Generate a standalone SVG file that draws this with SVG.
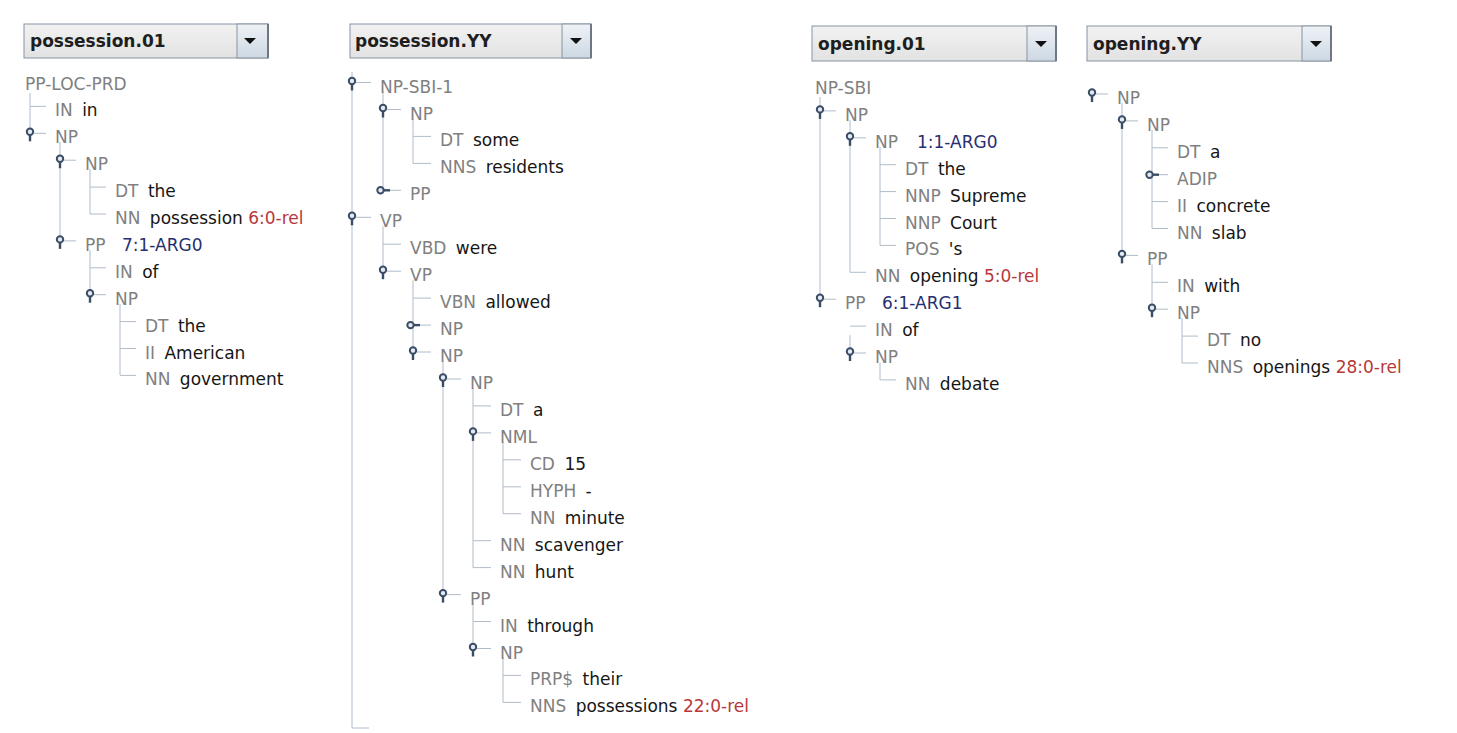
<svg xmlns="http://www.w3.org/2000/svg" xmlns:xlink="http://www.w3.org/1999/xlink" width="1457" height="733" viewBox="0 0 1457 733">
<style>
text{font-family:"DejaVu Sans",Verdana,sans-serif;font-size:17px}
.t{fill:#808080}
.w{fill:#161616}
.r{fill:#b8383a}
.a{fill:#262f70}
.cb{font-weight:bold;fill:#1e1e1e}
.ln{stroke:#b0bcc9;stroke-width:1;fill:none}
.tg{stroke:#3a4d66;stroke-width:2;fill:#e4eaf0}
.ts{stroke:#3a4d66;stroke-width:2.4;fill:none}
.box{fill:url(#gBox);stroke:#8793a1;stroke-width:1}
.btn{fill:url(#gBtn);stroke:#8793a1;stroke-width:1}
.edge{stroke:#6e7782;stroke-width:2}
</style>
<defs>
<linearGradient id="gBox" x1="0" y1="0" x2="0" y2="1"><stop offset="0" stop-color="#f2f2f2"/><stop offset="1" stop-color="#e2e2e2"/></linearGradient>
<linearGradient id="gBtn" x1="0" y1="0" x2="0" y2="1"><stop offset="0" stop-color="#eef2f6"/><stop offset="1" stop-color="#cdd8e3"/></linearGradient>
<g id="tgE"><line class="ts" x1="0" y1="2" x2="0" y2="8"/><circle class="tg" cx="0" cy="-1.5" r="3.2"/></g>
<g id="tgC"><line class="ts" x1="1" y1="0" x2="7" y2="0"/><circle class="tg" cx="-2.5" cy="0" r="3.2"/></g>
<path id="tri" d="M-6,0 L6,0 L0,6 Z" fill="#111"/>
</defs>
<rect width="1457" height="733" fill="#fff"/>

<!-- combo boxes -->
<g id="combo1">
<rect class="box" x="24" y="24" width="244" height="34"/>
<rect class="btn" x="237" y="24" width="31" height="34"/>
<line class="edge" x1="268" y1="24" x2="268" y2="58"/>
<use xlink:href="#tri" x="250" y="38"/>
<text class="cb" x="30" y="47">possession.01</text>
</g>
<g id="combo2">
<rect class="box" x="350" y="24" width="241" height="34"/>
<rect class="btn" x="562" y="24" width="29" height="34"/>
<line class="edge" x1="591" y1="24" x2="591" y2="58"/>
<use xlink:href="#tri" x="576" y="38"/>
<text class="cb" x="355" y="47">possession.YY</text>
</g>
<g id="combo3">
<rect class="box" x="812" y="26" width="244" height="35"/>
<rect class="btn" x="1027" y="26" width="29" height="35"/>
<line class="edge" x1="1056" y1="26" x2="1056" y2="61"/>
<use xlink:href="#tri" x="1041" y="41"/>
<text class="cb" x="818" y="50">opening.01</text>
</g>
<g id="combo4">
<rect class="box" x="1087" y="26" width="244" height="35"/>
<rect class="btn" x="1302" y="26" width="29" height="35"/>
<line class="edge" x1="1331" y1="26" x2="1331" y2="61"/>
<use xlink:href="#tri" x="1316" y="41"/>
<text class="cb" x="1093" y="50">opening.YY</text>
</g>

<!-- connectors -->
<g id="connectors" class="ln">
<!-- panel 1 -->
<path d="M30,93 V129 M60,142 V237 M90,169 V214 M90,250 V291 M120,304 V375"/>
<path d="M30,106.4 H46 M34,133.3 H46 M64,160.2 H76 M90,187.1 H106 M90,214 H106 M64,240.9 H76 M90,267.8 H106 M94,294.7 H106 M120,321.6 H136 M120,348.5 H136 M120,375.4 H136"/>
<!-- panel 2 -->
<path d="M352,72 V728 H369"/>
<path d="M383,91.5 V190.3 M413,118.5 V163.4 M383,226.3 V267.2 M413,280.2 V348 M443,361 V590.6 M473,388 V567.6 M503,441.9 V513.7 M473,603.6 V644.5 M503,657.5 V702.4"/>
<path d="M356,82.5 H371 M387,109.5 H401 M413,136.4 H431 M413,163.4 H431 M389,190.3 H401 M356,217.3 H371 M383,244.2 H401 M387,271.2 H401 M413,298.1 H431 M419,325.1 H431 M417,352 H431 M447,379 H461 M473,405.9 H491 M477,432.9 H491 M503,459.8 H521 M503,486.8 H521 M503,513.7 H521 M473,540.7 H491 M473,567.6 H491 M447,594.6 H461 M473,621.5 H491 M477,648.5 H491 M503,675.4 H521 M503,702.4 H521"/>
<!-- panel 3 -->
<path d="M820,97 V296.2 M850,119.9 V272.3 M880,146.8 V245.4 M850,335.2 V353 M880,362.9 V379.9"/>
<path d="M824,110.9 H836 M854,137.8 H866 M880,164.7 H896 M880,191.6 H896 M880,218.5 H896 M880,245.4 H896 M850,272.3 H866 M824,299.2 H836 M850,326.1 H866 M854,353 H866 M880,379.9 H896"/>
<!-- panel 4 -->
<path d="M1122,103 V255.4 M1152,129.9 V228.5 M1152,264.4 V309.2 M1182,318.2 V363"/>
<path d="M1096,94 H1108 M1126,120.9 H1138 M1152,147.8 H1168 M1158,174.7 H1168 M1152,201.6 H1168 M1152,228.5 H1168 M1126,255.4 H1138 M1152,282.3 H1168 M1156,309.2 H1168 M1182,336.1 H1198 M1182,363 H1198"/>
</g>

<!-- panel 1 nodes -->
<g id="p1n0"><text class="t" x="25" y="89.5">PP-LOC-PRD</text></g>
<g id="p1n1"><text class="t" x="55" y="116.4">IN <tspan class="w" dx="4">in</tspan></text></g>
<g id="p1n2"><use xlink:href="#tgE" x="30" y="133.3"/><text class="t" x="55" y="143.3">NP</text></g>
<g id="p1n3"><use xlink:href="#tgE" x="60" y="160.2"/><text class="t" x="85" y="170.2">NP</text></g>
<g id="p1n4"><text class="t" x="115" y="197.1">DT <tspan class="w" dx="4">the</tspan></text></g>
<g id="p1n5"><text class="t" x="115" y="224">NN <tspan class="w" dx="4">possession</tspan> <tspan class="r">6:0-rel</tspan></text></g>
<g id="p1n6"><use xlink:href="#tgE" x="60" y="240.9"/><text class="t" x="85" y="250.9">PP</text><text class="a" x="122" y="250.9">7:1-ARG0</text></g>
<g id="p1n7"><text class="t" x="115" y="277.8">IN <tspan class="w" dx="4">of</tspan></text></g>
<g id="p1n8"><use xlink:href="#tgE" x="90" y="294.7"/><text class="t" x="115" y="304.7">NP</text></g>
<g id="p1n9"><text class="t" x="145" y="331.6">DT <tspan class="w" dx="4">the</tspan></text></g>
<g id="p1n10"><text class="t" x="145" y="358.5">II <tspan class="w" dx="4">American</tspan></text></g>
<g id="p1n11"><text class="t" x="145" y="385.4">NN <tspan class="w" dx="4">government</tspan></text></g>

<!-- panel 2 nodes -->
<g id="p2n0"><use xlink:href="#tgE" x="352" y="82.5"/><text class="t" x="380" y="92.5">NP-SBI-1</text></g>
<g id="p2n1"><use xlink:href="#tgE" x="383" y="109.5"/><text class="t" x="410" y="119.5">NP</text></g>
<g id="p2n2"><text class="t" x="440" y="146.4">DT <tspan class="w" dx="4">some</tspan></text></g>
<g id="p2n3"><text class="t" x="440" y="173.4">NNS <tspan class="w" dx="4">residents</tspan></text></g>
<g id="p2n4"><use xlink:href="#tgC" x="383" y="190.3"/><text class="t" x="410" y="200.3">PP</text></g>
<g id="p2n5"><use xlink:href="#tgE" x="352" y="217.3"/><text class="t" x="380" y="227.3">VP</text></g>
<g id="p2n6"><text class="t" x="410" y="254.2">VBD <tspan class="w" dx="4">were</tspan></text></g>
<g id="p2n7"><use xlink:href="#tgE" x="383" y="271.2"/><text class="t" x="410" y="281.2">VP</text></g>
<g id="p2n8"><text class="t" x="440" y="308.1">VBN <tspan class="w" dx="4">allowed</tspan></text></g>
<g id="p2n9"><use xlink:href="#tgC" x="413" y="325.1"/><text class="t" x="440" y="335.1">NP</text></g>
<g id="p2n10"><use xlink:href="#tgE" x="413" y="352"/><text class="t" x="440" y="362">NP</text></g>
<g id="p2n11"><use xlink:href="#tgE" x="443" y="379"/><text class="t" x="470" y="389">NP</text></g>
<g id="p2n12"><text class="t" x="500" y="415.9">DT <tspan class="w" dx="4">a</tspan></text></g>
<g id="p2n13"><use xlink:href="#tgE" x="473" y="432.9"/><text class="t" x="500" y="442.9">NML</text></g>
<g id="p2n14"><text class="t" x="530" y="469.8">CD <tspan class="w" dx="4">15</tspan></text></g>
<g id="p2n15"><text class="t" x="530" y="496.8">HYPH <tspan class="w" dx="4">-</tspan></text></g>
<g id="p2n16"><text class="t" x="530" y="523.7">NN <tspan class="w" dx="4">minute</tspan></text></g>
<g id="p2n17"><text class="t" x="500" y="550.7">NN <tspan class="w" dx="4">scavenger</tspan></text></g>
<g id="p2n18"><text class="t" x="500" y="577.6">NN <tspan class="w" dx="4">hunt</tspan></text></g>
<g id="p2n19"><use xlink:href="#tgE" x="443" y="594.6"/><text class="t" x="470" y="604.6">PP</text></g>
<g id="p2n20"><text class="t" x="500" y="631.5">IN <tspan class="w" dx="4">through</tspan></text></g>
<g id="p2n21"><use xlink:href="#tgE" x="473" y="648.5"/><text class="t" x="500" y="658.5">NP</text></g>
<g id="p2n22"><text class="t" x="530" y="685.4">PRP$ <tspan class="w" dx="4">their</tspan></text></g>
<g id="p2n23"><text class="t" x="530" y="712.4">NNS <tspan class="w" dx="4">possessions</tspan> <tspan class="r">22:0-rel</tspan></text></g>

<!-- panel 3 nodes -->
<g id="p3n0"><text class="t" x="815" y="94">NP-SBI</text></g>
<g id="p3n1"><use xlink:href="#tgE" x="820" y="110.9"/><text class="t" x="845" y="120.9">NP</text></g>
<g id="p3n2"><use xlink:href="#tgE" x="850" y="137.8"/><text class="t" x="875" y="147.8">NP</text><text class="a" x="917" y="147.8">1:1-ARG0</text></g>
<g id="p3n3"><text class="t" x="905" y="174.7">DT <tspan class="w" dx="4">the</tspan></text></g>
<g id="p3n4"><text class="t" x="905" y="201.6">NNP <tspan class="w" dx="4">Supreme</tspan></text></g>
<g id="p3n5"><text class="t" x="905" y="228.5">NNP <tspan class="w" dx="4">Court</tspan></text></g>
<g id="p3n6"><text class="t" x="905" y="255.4">POS <tspan class="w" dx="4">'s</tspan></text></g>
<g id="p3n7"><text class="t" x="875" y="282.3">NN <tspan class="w" dx="4">opening</tspan> <tspan class="r">5:0-rel</tspan></text></g>
<g id="p3n8"><use xlink:href="#tgE" x="820" y="299.2"/><text class="t" x="845" y="309.2">PP</text><text class="a" x="882" y="309.2">6:1-ARG1</text></g>
<g id="p3n9"><text class="t" x="875" y="336.1">IN <tspan class="w" dx="4">of</tspan></text></g>
<g id="p3n10"><use xlink:href="#tgE" x="850" y="353"/><text class="t" x="875" y="363">NP</text></g>
<g id="p3n11"><text class="t" x="905" y="389.9">NN <tspan class="w" dx="4">debate</tspan></text></g>

<!-- panel 4 nodes -->
<g id="p4n0"><use xlink:href="#tgE" x="1092" y="94"/><text class="t" x="1117" y="104">NP</text></g>
<g id="p4n1"><use xlink:href="#tgE" x="1122" y="120.9"/><text class="t" x="1147" y="130.9">NP</text></g>
<g id="p4n2"><text class="t" x="1177" y="157.8">DT <tspan class="w" dx="4">a</tspan></text></g>
<g id="p4n3"><use xlink:href="#tgC" x="1152" y="174.7"/><text class="t" x="1177" y="184.7">ADIP</text></g>
<g id="p4n4"><text class="t" x="1177" y="211.6">II <tspan class="w" dx="4">concrete</tspan></text></g>
<g id="p4n5"><text class="t" x="1177" y="238.5">NN <tspan class="w" dx="4">slab</tspan></text></g>
<g id="p4n6"><use xlink:href="#tgE" x="1122" y="255.4"/><text class="t" x="1147" y="265.4">PP</text></g>
<g id="p4n7"><text class="t" x="1177" y="292.3">IN <tspan class="w" dx="4">with</tspan></text></g>
<g id="p4n8"><use xlink:href="#tgE" x="1152" y="309.2"/><text class="t" x="1177" y="319.2">NP</text></g>
<g id="p4n9"><text class="t" x="1207" y="346.1">DT <tspan class="w" dx="4">no</tspan></text></g>
<g id="p4n10"><text class="t" x="1207" y="373">NNS <tspan class="w" dx="4">openings</tspan> <tspan class="r">28:0-rel</tspan></text></g>
</svg>
